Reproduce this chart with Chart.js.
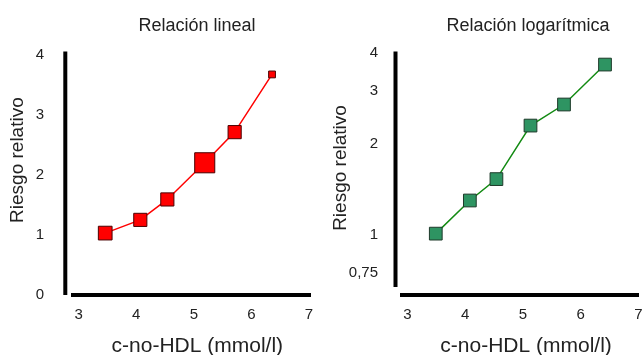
<!DOCTYPE html>
<html>
<head>
<meta charset="utf-8">
<script src="https://cdn.jsdelivr.net/npm/chart.js@4"></script>
<style>
  body { margin: 0; background: #fff; }
  #wrap { position: relative; width: 643px; height: 355px; }
  canvas { position: absolute; top: 0; }
  #chartLin { left: 0; }
  #chartLog { left: 322px; }
</style>
</head>
<body>
<div id="wrap">
  <canvas id="chartLin" width="322" height="355"></canvas>
  <canvas id="chartLog" width="321" height="355"></canvas>
</div>
<script>
// values
const xTicks = [3, 4, 5, 6, 7];
const linTicks = [0, 1, 2, 3, 4];
const logTicks = [0.75, 1, 2, 3, 4];

const linX = [3.46, 4.07, 4.54, 5.19, 5.71, 6.36];
const linY = [1.03, 1.25, 1.59, 2.2, 2.71, 3.67];
const logX = [3.49, 4.08, 4.54, 5.13, 5.71, 6.42];
const logY = [1.01, 1.30, 1.53, 2.30, 2.70, 3.66];

// marker radius per point (left panel varies)
const linRadius = [9.7, 9.3, 9.3, 14.2, 9.3, 4.8];
const logRadius = [9, 9, 9, 9, 9, 9];

const FONT = '"Liberation Sans", Arial, Helvetica, sans-serif';

// y axis is drawn a few px left of the plot, not touching the x axis
const frame = {
    id: 'frame',
    afterLayout(chart, args, opts) {
        const t = chart.titleBlock;
        if (t) {
            t.left += opts.titleShift;
            t.right += opts.titleShift;
        }
    },
    afterDraw(chart, args, opts) {
        const { ctx, chartArea } = chart;
        const x = chartArea.left - opts.gap;
        ctx.save();
        ctx.strokeStyle = '#000';
        ctx.lineWidth = 4;
        ctx.beginPath();
        ctx.moveTo(x, chartArea.top);
        ctx.lineTo(x, chartArea.bottom - opts.cut);
        ctx.stroke();
        ctx.restore();
    }
};

function comma(v) {
    return String(v).replace('.', ',');
}

function makeConfig(xs, ys, radius, color, fill, edge, opts) {
    return {
        type: 'line',
        data: {
            datasets: [{
                data: xs.map((x, i) => ({ x: x, y: ys[i] })),
                borderColor: color,
                borderWidth: 1.5,
                backgroundColor: fill,
                pointStyle: 'rect',
                pointRadius: radius,
                pointBackgroundColor: fill,
                pointBorderColor: edge,
                pointBorderWidth: 1,
                tension: 0,
                clip: false
            }]
        },
        options: {
            responsive: false,
            animation: false,
            events: [],
            layout: {
                autoPadding: false,
                padding: { left: 0, right: opts.padRight, top: 0, bottom: 0 }
            },
            scales: {
                x: {
                    type: 'linear',
                    bounds: 'data',
                    min: opts.xMin,
                    max: opts.xMax,
                    grid: { display: false },
                    border: { display: true, color: '#000', width: 4 },
                    afterBuildTicks: s => { s.ticks = xTicks.map(v => ({ value: v })); },
                    afterFit: s => {
                        s.height = 355 - opts.bottom;
                        s.paddingLeft = 0;
                        s.paddingRight = 0;
                    },
                    ticks: {
                        autoSkip: false,
                        maxRotation: 0,
                        padding: 3,
                        color: '#222',
                        font: { family: FONT, size: 15 }
                    },
                    title: {
                        display: true,
                        text: opts.xTitle,
                        color: '#222',
                        padding: 0,
                        font: { family: FONT, size: 21, lineHeight: 0.8 }
                    }
                },
                y: {
                    type: opts.yType,
                    bounds: 'data',
                    min: opts.yMin,
                    max: opts.yMax,
                    grid: { display: false },
                    border: { display: false },
                    afterBuildTicks: s => { s.ticks = opts.yTicks.map(v => ({ value: v })); },
                    afterFit: s => {
                        s.width = opts.left;
                        s.paddingTop = 0;
                        s.paddingBottom = 0;
                    },
                    ticks: {
                        autoSkip: false,
                        padding: opts.yPad,
                        color: '#222',
                        font: { family: FONT, size: 15 },
                        callback: v => comma(v)
                    },
                    title: {
                        display: true,
                        text: opts.yTitle,
                        color: '#222',
                        padding: { top: opts.yTitlePad, bottom: 0 },
                        font: { family: FONT, size: 19 }
                    }
                }
            },
            plugins: {
                legend: { display: false },
                tooltip: { enabled: false },
                title: {
                    display: true,
                    fullSize: false,
                    text: opts.title,
                    color: '#222',
                    padding: { top: 15, bottom: 15 },
                    font: { family: FONT, size: 18, weight: 'normal' }
                },
                frame: { gap: opts.gap, cut: opts.cut, titleShift: opts.titleShift }
            }
        },
        plugins: [frame]
    };
}

new Chart(document.getElementById('chartLin'), makeConfig(
    linX, linY, linRadius, '#ff0000', '#ff0000', '#4a0000', {
        title: 'Relación lineal',
        xTitle: '  c-no-HDL (mmol/l)',
        yTitle: '     Riesgo relativo',
        yType: 'linear', yMin: 0, yMax: 4.05, yTicks: linTicks,
        xMin: 2.9, xMax: 7.02,
        left: 73, padRight: 12, bottom: 295,
        yPad: 21, yTitlePad: 6, gap: 7.7, cut: 0, titleShift: 5.5
    }));

new Chart(document.getElementById('chartLog'), makeConfig(
    logX, logY, logRadius, '#128a12', '#2e9462', '#1e3a2a', {
        title: 'Relación logarítmica',
        xTitle: '  c-no-HDL (mmol/l)',
        yTitle: '  Riesgo relativo',
        yType: 'logarithmic', yMin: 0.633, yMax: 4.04, yTicks: logTicks,
        xMin: 2.905, xMax: 7.0,
        left: 80, padRight: 4.5, bottom: 295,
        yPad: 16, yTitlePad: 7, gap: 6.5, cut: 8, titleShift: 7.75
    }));
</script>
</body>
</html>
